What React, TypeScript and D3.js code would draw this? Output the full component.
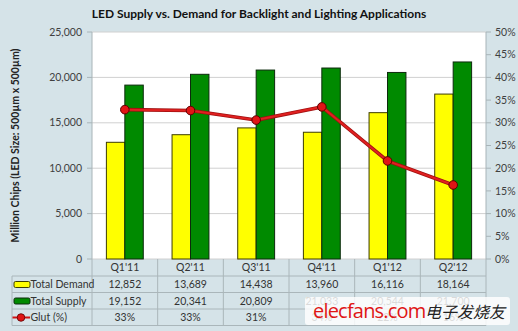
import React from "react";
import * as d3 from "d3";

const categories = ["Q1'11", "Q2'11", "Q3'11", "Q4'11", "Q1'12", "Q2'12"];
const totalDemand = [12852, 13689, 14438, 13960, 16116, 18164];
const totalSupply = [19152, 20341, 20809, 21033, 20544, 21700];
const glutPct = [0.329, 0.327, 0.306, 0.335, 0.216, 0.163];
const glutLabels = ["33%", "33%", "31%", "34%", "22%", "16%"];
const leftTicks = [0, 5000, 10000, 15000, 20000, 25000];
const rightTicks = [0, 0.05, 0.1, 0.15, 0.2, 0.25, 0.3, 0.35, 0.4, 0.45, 0.5];
const seriesNames = ["Total Demand", "Total Supply", "Glut (%)"];

const W = 518;
const H = 331;
const L = 92;
const R = 486;
const T = 32;
const B = 259;
const rowH = [276, 292.5, 309, 325.5];
const FONT = "Lato, 'Open Sans', sans-serif";

export default function App() {
  const x = d3.scaleBand<string>().domain(categories).range([L, R]).padding(0);
  const inner = d3
    .scaleBand<string>()
    .domain(["d", "s"])
    .range([0, x.bandwidth()])
    .paddingInner(0)
    .paddingOuter(0.78);
  const yL = d3.scaleLinear().domain([0, 25000]).range([B, T]);
  const yR = d3.scaleLinear().domain([0, 0.5]).range([B, T]);
  const fmt = d3.format(",");
  const pct = d3.format(".0%");

  const line = d3
    .line<number>()
    .x((_, i) => (x(categories[i]) as number) + x.bandwidth() / 2)
    .y((d) => yR(d));

  const colEdges = categories.map((c) => x(c) as number).concat([R]);
  const rowText = [
    categories,
    totalDemand.map(fmt),
    totalSupply.map(fmt),
    glutLabels,
  ];
  const rowMid = [
    (B + rowH[0]) / 2,
    (rowH[0] + rowH[1]) / 2,
    (rowH[1] + rowH[2]) / 2,
    (rowH[2] + rowH[3]) / 2,
  ];

  return (
    <svg
      width={W}
      height={H}
      style={{ position: "absolute", left: 0, top: 0 }}
      fontFamily={FONT}
    >
      <rect x={0} y={0} width={W} height={H} fill="#d5e3e8" />
      <text
        x={259}
        y={18}
        textAnchor="middle"
        fontWeight="bold"
        fontSize={12}
        fill="#111"
      >
        LED Supply vs. Demand for Backlight and Lighting Applications
      </text>
      {/* plot */}
      <rect x={L} y={T} width={R - L} height={B - T} fill="#ffffff" />
      {leftTicks.map((t) => (
        <line
          key={"g" + t}
          x1={L}
          x2={R}
          y1={yL(t)}
          y2={yL(t)}
          stroke="#d0d0d0"
          strokeWidth={1}
        />
      ))}
      <line x1={L} x2={L} y1={T} y2={B} stroke="#a8b4b8" />
      <line x1={R} x2={R} y1={T} y2={B} stroke="#a8b4b8" />
      {leftTicks.map((t) => (
        <g key={"lt" + t}>
          <line x1={L - 5} x2={L} y1={yL(t)} y2={yL(t)} stroke="#a8b4b8" />
          <text
            x={82}
            y={yL(t)}
            dy="0.35em"
            textAnchor="end"
            fontSize={10.5}
            fill="#404040"
          >
            {fmt(t)}
          </text>
        </g>
      ))}
      {rightTicks.map((t) => (
        <g key={"rt" + t}>
          <line x1={R} x2={R + 5} y1={yR(t)} y2={yR(t)} stroke="#a8b4b8" />
          <text
            x={495}
            y={yR(t)}
            dy="0.35em"
            textAnchor="start"
            fontSize={10.5}
            fill="#404040"
          >
            {pct(t)}
          </text>
        </g>
      ))}
      <text
        transform={`translate(19,${(T + B) / 2}) rotate(-90)`}
        textAnchor="middle"
        fontWeight="bold"
        fontSize={10.5}
        fill="#222"
      >
        Million Chips (LED Size: 500µm x 500µm)
      </text>
      {/* bars */}
      {categories.map((c, i) => (
        <g key={"b" + c}>
          <rect
            x={(x(c) as number) + (inner("d") as number)}
            y={yL(totalDemand[i])}
            width={inner.bandwidth()}
            height={B - yL(totalDemand[i])}
            fill="#ffff00"
            stroke="#3c3c00"
            strokeWidth={1}
          />
          <rect
            x={(x(c) as number) + (inner("s") as number)}
            y={yL(totalSupply[i])}
            width={inner.bandwidth()}
            height={B - yL(totalSupply[i])}
            fill="#008a00"
            stroke="#0d2a0d"
            strokeWidth={1}
          />
        </g>
      ))}
      {/* glut line */}
      <path d={line(glutPct) || ""} fill="none" stroke="#a01010" strokeWidth={3.6} />
      <path d={line(glutPct) || ""} fill="none" stroke="#e02020" strokeWidth={2} />
      {glutPct.map((g, i) => (
        <circle
          key={"c" + i}
          cx={(x(categories[i]) as number) + x.bandwidth() / 2}
          cy={yR(g)}
          r={4.3}
          fill="#e01515"
          stroke="#5a0000"
          strokeWidth={1}
        />
      ))}
      {/* data table */}
      {rowH.map((y) => (
        <line key={"h" + y} x1={12} x2={R} y1={y} y2={y} stroke="#aab6ba" />
      ))}
      <line x1={12} x2={12} y1={rowH[0]} y2={rowH[3]} stroke="#aab6ba" />
      {colEdges.map((e) => (
        <line key={"v" + e} x1={e} x2={e} y1={B} y2={rowH[3]} stroke="#aab6ba" />
      ))}
      {rowText.map((row, ri) =>
        row.map((t, ci) => (
          <text
            key={"t" + ri + "-" + ci}
            x={(x(categories[ci]) as number) + x.bandwidth() / 2}
            y={rowMid[ri]}
            dy="0.36em"
            textAnchor="middle"
            fontSize={10.5}
            fill="#333"
          >
            {t}
          </text>
        ))
      )}
      {/* legend keys */}
      <rect x={14} y={281.5} width={16} height={6} rx={1.5} fill="#ffff00" stroke="#3c3c00" />
      <rect x={14} y={298} width={16} height={6} rx={1.5} fill="#008a00" stroke="#0d2a0d" />
      <line x1={12.5} x2={30} y1={317.5} y2={317.5} stroke="#d01515" strokeWidth={2} />
      <circle cx={21} cy={317.5} r={3.8} fill="#e01515" stroke="#5a0000" strokeWidth={0.8} />
      {seriesNames.map((n, i) => (
        <text
          key={"ln" + i}
          x={30.5}
          y={rowMid[i + 1]}
          dy="0.36em"
          fontSize={10.5}
          fill="#333"
        >
          {n}
        </text>
      ))}
      {/* watermark */}
      <rect x={305} y={297} width={205} height={28} rx={3} fill="#ffffff" opacity={0.82} />
      <text
        x={313}
        y={318}
        fontSize={20}
        fill="#e01515"
        fontFamily="'Open Sans', sans-serif"
        letterSpacing={-0.8}
      >
        elecfans.com
      </text>
      <text
        x={425}
        y={318}
        fontSize={16}
        fill="#222"
        fontFamily="'Noto Sans CJK SC', sans-serif"
        fontStyle="italic"
      >
        电子发烧友
      </text>
    </svg>
  );
}
